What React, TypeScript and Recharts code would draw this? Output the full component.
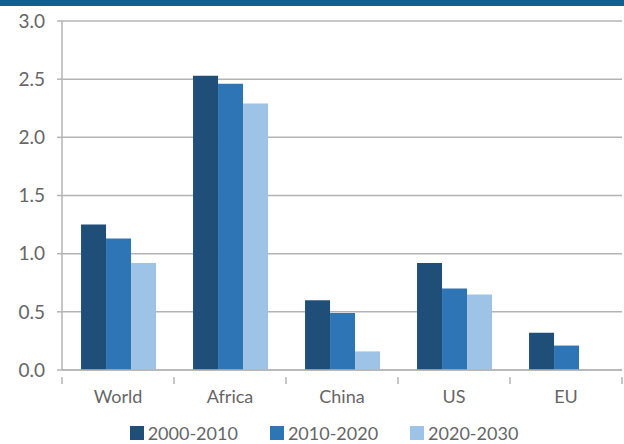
import React from "react";
import { BarChart, Bar, XAxis, YAxis, CartesianGrid } from "recharts";

const categories = ["World", "Africa", "China", "US", "EU"];
const s2000_2010 = [1.25, 2.53, 0.6, 0.92, 0.32];
const s2010_2020 = [1.13, 2.46, 0.49, 0.7, 0.21];
const s2020_2030 = [0.92, 2.29, 0.16, 0.65, 0];
const yTicks = [0, 0.5, 1, 1.5, 2, 2.5, 3];
const seriesNames = ["2000-2010", "2010-2020", "2020-2030"];
const colors = ["#1f4e79", "#2e75b6", "#9dc3e6"];

const data = categories.map((c, i) => ({
  name: c,
  a: s2000_2010[i],
  b: s2010_2020[i],
  c: s2020_2030[i],
}));

const FONT = "Lato, 'DejaVu Sans', sans-serif";
const TEXT = "#666666";
const AXIS = "#b4b4b4";

const XTick = (props: any) => {
  const { x, y, payload, index, visibleTicksCount } = props;
  const n = visibleTicksCount || 5;
  const bw = 560 / n;
  const last = index === n - 1;
  return (
    <g>
      <line x1={x - bw / 2} x2={x - bw / 2} y1={y - 1} y2={y + 6} stroke={AXIS} strokeWidth={1.5} />
      {last && (
        <line x1={x + bw / 2} x2={x + bw / 2} y1={y - 1} y2={y + 6} stroke={AXIS} strokeWidth={1.5} />
      )}
      <text x={x} y={y + 12} dy="0.71em" textAnchor="middle" fill={TEXT} fontSize={18} fontFamily={FONT}>
        {payload.value}
      </text>
    </g>
  );
};

const LegendRow = () => (
  <div
    style={{
      position: "absolute",
      top: 422,
      left: 0,
      width: 624,
      display: "flex",
      justifyContent: "center",
      alignItems: "center",
      fontFamily: FONT,
      fontSize: 18,
      color: TEXT,
      marginLeft: 12,
    }}
  >
    {seriesNames.map((n, i) => (
      <div key={n} style={{ display: "flex", alignItems: "center", marginRight: i < 2 ? 32 : 0 }}>
        <div style={{ width: 14, height: 14, background: colors[i], marginRight: 4 }} />
        <span>{n}</span>
      </div>
    ))}
  </div>
);

export default function App() {
  return (
    <div style={{ position: "absolute", top: 0, left: 0, width: 624, height: 444, background: "#fff" }}>
      <div style={{ position: "absolute", top: 0, left: 0, width: 624, height: 6, background: "#0d6090" }} />
      <div style={{ position: "absolute", top: 0, left: 0 }}>
        <BarChart
          width={624}
          height={444}
          data={data}
          margin={{ top: 21, right: 2, left: 0, bottom: 44 }}
          barCategoryGap="17%"
          barGap={0}
        >
          <CartesianGrid vertical={false} stroke={AXIS} strokeWidth={1.5} />
          <XAxis
            dataKey="name"
            height={30}
            axisLine={{ stroke: AXIS, strokeWidth: 1.5 }}
            tickLine={false}
            tick={<XTick />}
            interval={0}
          />
          <YAxis
            width={62}
            domain={[0, 3]}
            ticks={yTicks}
            tickFormatter={(v: number) => v.toFixed(1)}
            axisLine={{ stroke: AXIS, strokeWidth: 1.5 }}
            tickLine={{ stroke: AXIS, strokeWidth: 1.5 }}
            tickSize={5}
            tickMargin={12}
            tick={{ fill: TEXT, fontSize: 19, fontFamily: FONT }}
          />
          <Bar dataKey="a" fill={colors[0]} isAnimationActive={false} />
          <Bar dataKey="b" fill={colors[1]} isAnimationActive={false} />
          <Bar dataKey="c" fill={colors[2]} isAnimationActive={false} />
        </BarChart>
      </div>
      <LegendRow />
    </div>
  );
}
